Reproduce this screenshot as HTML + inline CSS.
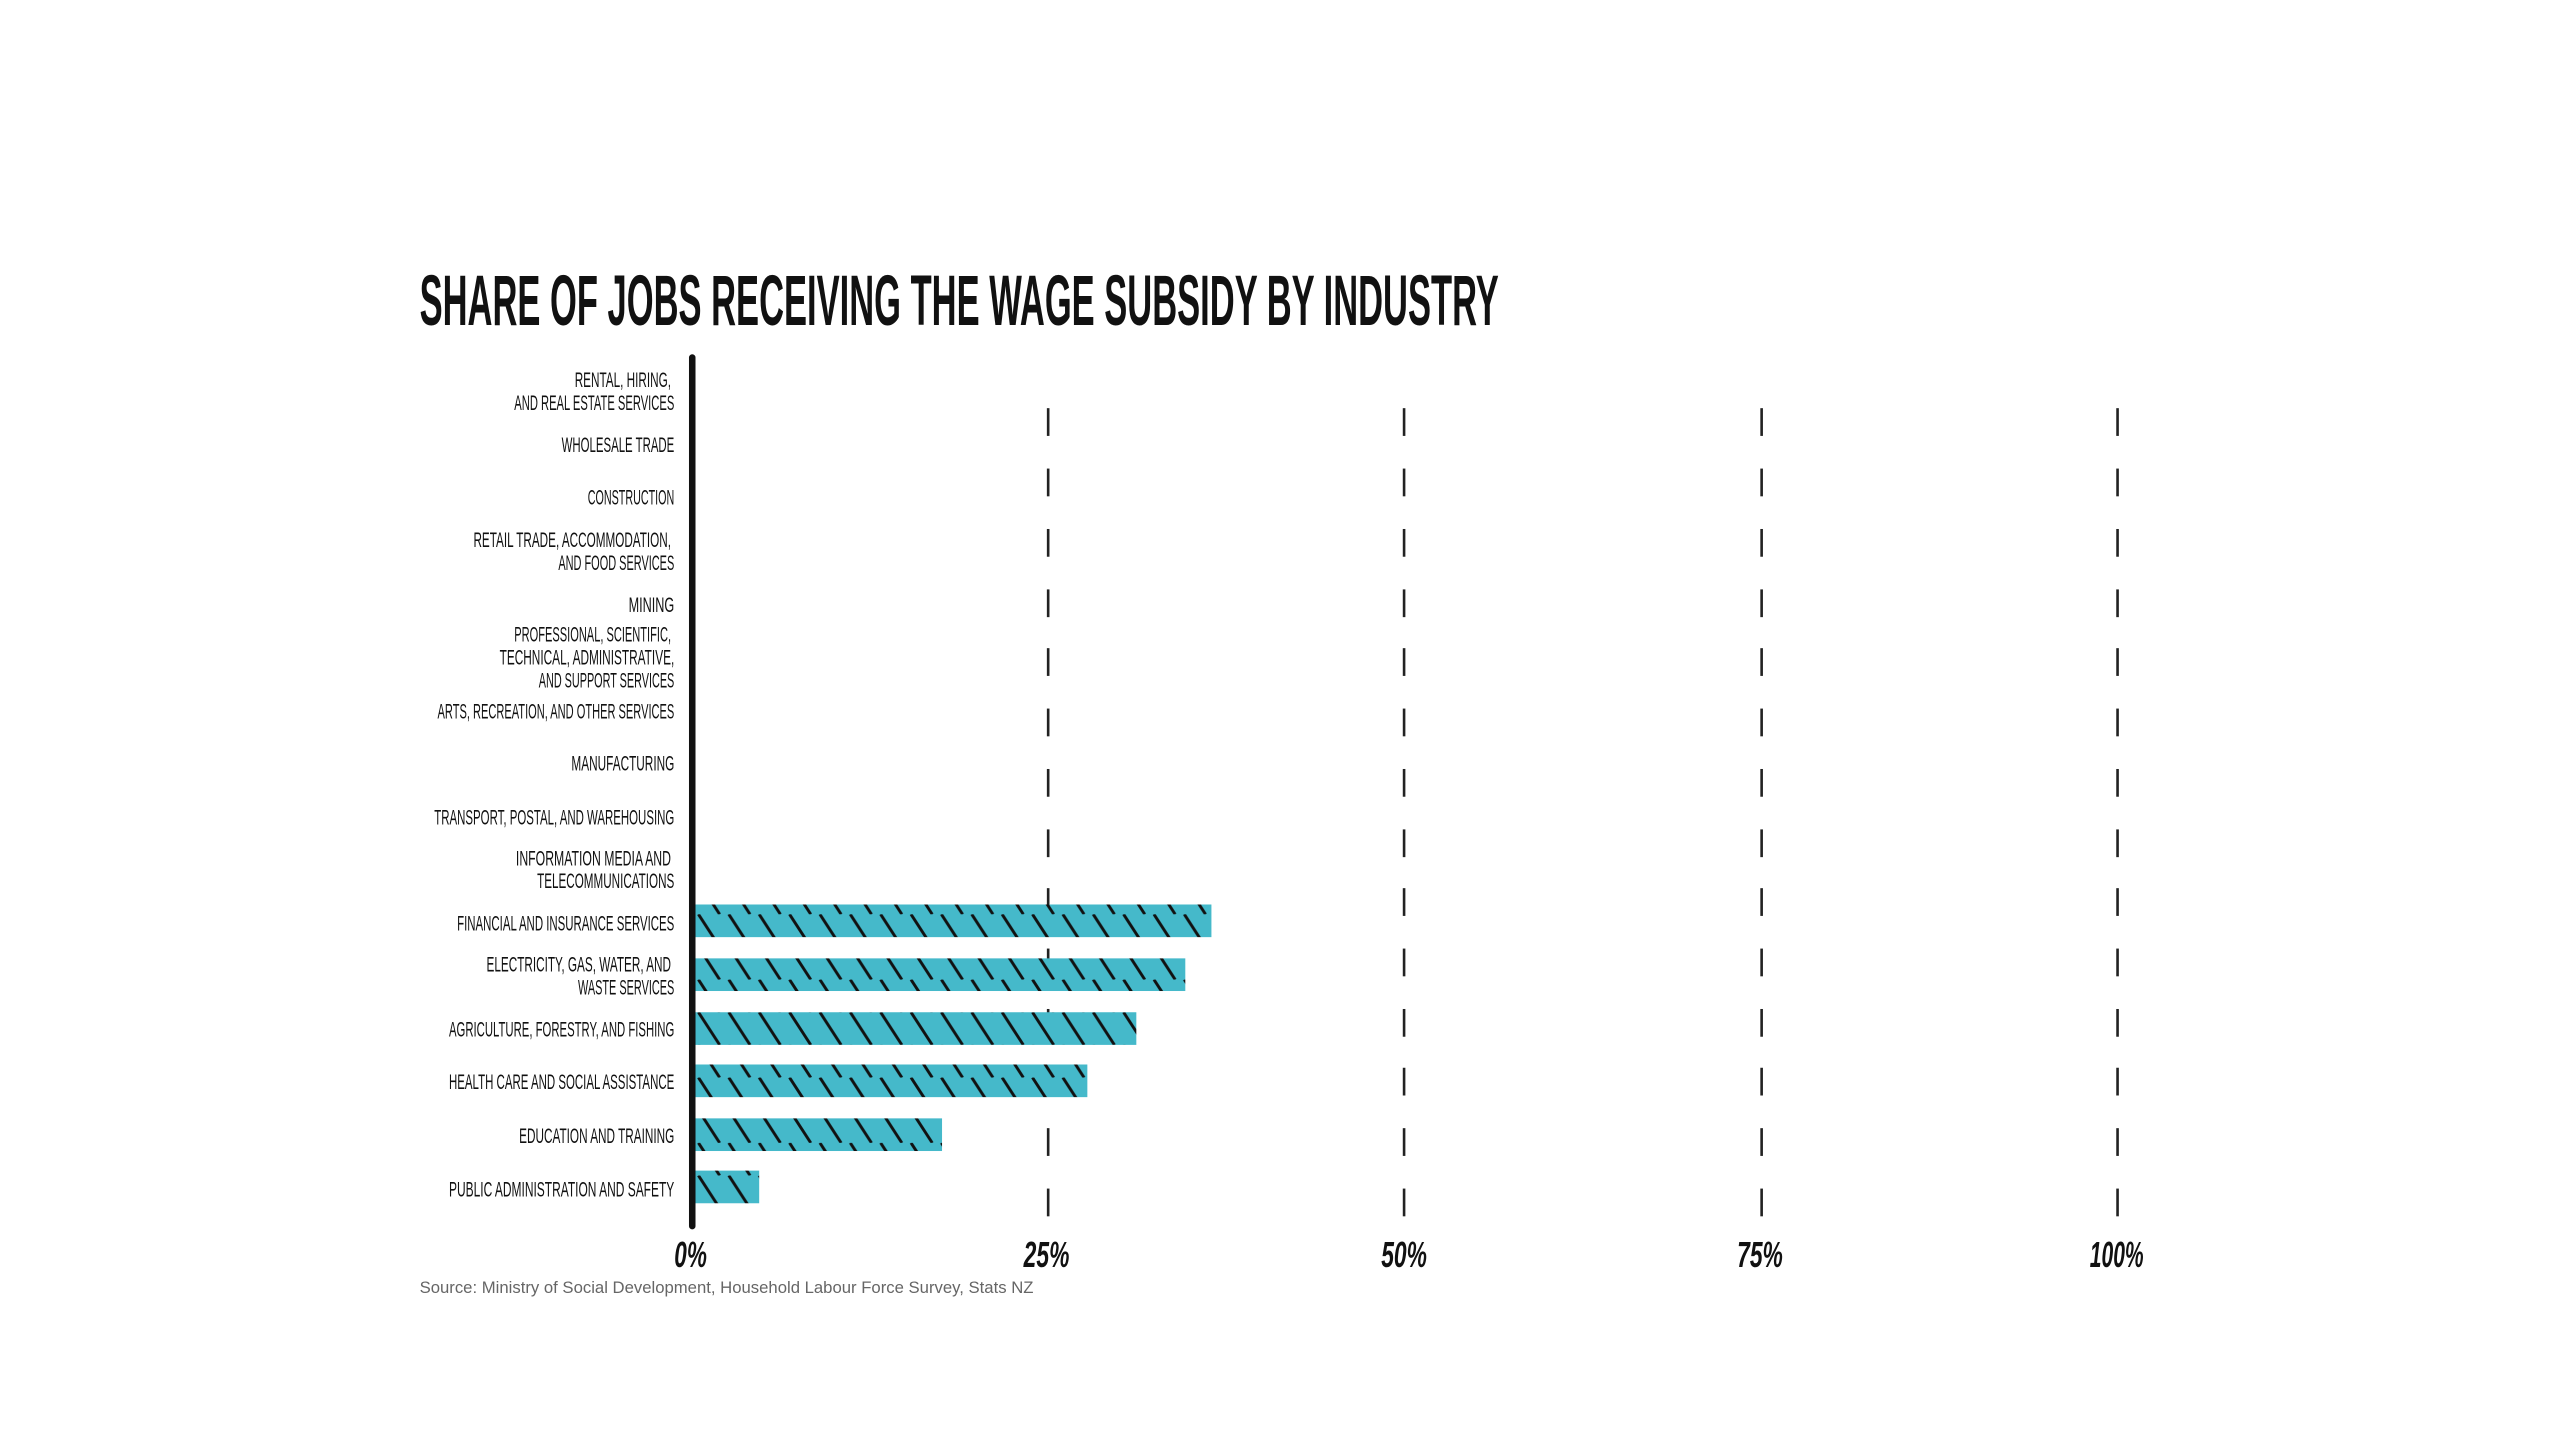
<!DOCTYPE html>
<html><head><meta charset="utf-8"><style>html,body{margin:0;padding:0;background:#fff}svg{display:block}</style></head>
<body>
<svg width="2560" height="1440" viewBox="0 0 1568 882" xmlns="http://www.w3.org/2000/svg">
<defs>
<pattern id="h" patternUnits="userSpaceOnUse" width="18.6" height="20">
<rect width="18.6" height="20" fill="#45b9ca"/>
<line x1="0" y1="0" x2="13" y2="20" stroke="#111" stroke-width="1.8"/>
<line x1="18.6" y1="0" x2="31.6" y2="20" stroke="#111" stroke-width="1.8"/>
<line x1="-18.6" y1="0" x2="-5.6" y2="20" stroke="#111" stroke-width="1.8"/>
</pattern>
</defs>
<rect width="1568" height="882" fill="#fff"/>
<text x="257" y="199" font-family="Liberation Sans, sans-serif" font-weight="bold" font-size="44" textLength="661" lengthAdjust="spacingAndGlyphs" fill="#111">SHARE OF JOBS RECEIVING THE WAGE SUBSIDY BY INDUSTRY</text>
<g stroke="#222" stroke-width="1.6">
<g id="g1">
<line x1="642" x2="642" y1="250" y2="267"/><line x1="642" x2="642" y1="287" y2="304"/><line x1="642" x2="642" y1="324" y2="341"/><line x1="642" x2="642" y1="361" y2="378"/><line x1="642" x2="642" y1="397" y2="414"/><line x1="642" x2="642" y1="434" y2="451"/><line x1="642" x2="642" y1="471" y2="488"/><line x1="642" x2="642" y1="508" y2="525"/><line x1="642" x2="642" y1="544" y2="561"/><line x1="642" x2="642" y1="581" y2="598"/><line x1="642" x2="642" y1="618" y2="635"/><line x1="642" x2="642" y1="654" y2="671"/><line x1="642" x2="642" y1="691" y2="708"/><line x1="642" x2="642" y1="728" y2="745"/>
</g>
<use href="#g1" x="218"/><use href="#g1" x="437"/><use href="#g1" x="655"/>
</g>
<g fill="url(#h)">
<rect x="425" y="554" width="317" height="20"/>
<rect x="425" y="587" width="301" height="20"/>
<rect x="425" y="620" width="271" height="20"/>
<rect x="425" y="652" width="241" height="20"/>
<rect x="425" y="685" width="152" height="20"/>
<rect x="425" y="717" width="40" height="20"/>
</g>
<line x1="424" x2="424" y1="219" y2="751" stroke="#111" stroke-width="4" stroke-linecap="round"/>
<g font-family="Liberation Sans, sans-serif" font-size="13" fill="#111" text-anchor="end">
<text x="411" y="237" textLength="59" lengthAdjust="spacingAndGlyphs">RENTAL, HIRING,</text>
<text x="413" y="251" textLength="98" lengthAdjust="spacingAndGlyphs">AND REAL ESTATE SERVICES</text>
<text x="413" y="277" textLength="69" lengthAdjust="spacingAndGlyphs">WHOLESALE TRADE</text>
<text x="413" y="309" textLength="53" lengthAdjust="spacingAndGlyphs">CONSTRUCTION</text>
<text x="411" y="335" textLength="121" lengthAdjust="spacingAndGlyphs">RETAIL TRADE, ACCOMMODATION,</text>
<text x="413" y="349" textLength="71" lengthAdjust="spacingAndGlyphs">AND FOOD SERVICES</text>
<text x="413" y="375" textLength="28" lengthAdjust="spacingAndGlyphs">MINING</text>
<text x="411" y="393" textLength="96" lengthAdjust="spacingAndGlyphs">PROFESSIONAL, SCIENTIFIC,</text>
<text x="413" y="407" textLength="107" lengthAdjust="spacingAndGlyphs">TECHNICAL, ADMINISTRATIVE,</text>
<text x="413" y="421" textLength="83" lengthAdjust="spacingAndGlyphs">AND SUPPORT SERVICES</text>
<text x="413" y="440" textLength="145" lengthAdjust="spacingAndGlyphs">ARTS, RECREATION, AND OTHER SERVICES</text>
<text x="413" y="472" textLength="63" lengthAdjust="spacingAndGlyphs">MANUFACTURING</text>
<text x="413" y="505" textLength="147" lengthAdjust="spacingAndGlyphs">TRANSPORT, POSTAL, AND WAREHOUSING</text>
<text x="411" y="530" textLength="95" lengthAdjust="spacingAndGlyphs">INFORMATION MEDIA AND</text>
<text x="413" y="544" textLength="84" lengthAdjust="spacingAndGlyphs">TELECOMMUNICATIONS</text>
<text x="413" y="570" textLength="133" lengthAdjust="spacingAndGlyphs">FINANCIAL AND INSURANCE SERVICES</text>
<text x="411" y="595" textLength="113" lengthAdjust="spacingAndGlyphs">ELECTRICITY, GAS, WATER, AND</text>
<text x="413" y="609" textLength="59" lengthAdjust="spacingAndGlyphs">WASTE SERVICES</text>
<text x="413" y="635" textLength="138" lengthAdjust="spacingAndGlyphs">AGRICULTURE, FORESTRY, AND FISHING</text>
<text x="413" y="667" textLength="138" lengthAdjust="spacingAndGlyphs">HEALTH CARE AND SOCIAL ASSISTANCE</text>
<text x="413" y="700" textLength="95" lengthAdjust="spacingAndGlyphs">EDUCATION AND TRAINING</text>
<text x="413" y="733" textLength="138" lengthAdjust="spacingAndGlyphs">PUBLIC ADMINISTRATION AND SAFETY</text>
</g>
<g font-family="Liberation Sans, sans-serif" font-size="22" font-style="italic" font-weight="bold" fill="#111">
<text x="413" y="776" textLength="20" lengthAdjust="spacingAndGlyphs">0%</text>
<text x="627" y="776" textLength="28" lengthAdjust="spacingAndGlyphs">25%</text>
<text x="846" y="776" textLength="28" lengthAdjust="spacingAndGlyphs">50%</text>
<text x="1064" y="776" textLength="28" lengthAdjust="spacingAndGlyphs">75%</text>
<text x="1280" y="776" textLength="33" lengthAdjust="spacingAndGlyphs">100%</text>
</g>
<text x="257" y="792" font-family="Liberation Sans, sans-serif" font-size="10" fill="#666" textLength="376" lengthAdjust="spacingAndGlyphs">Source: Ministry of Social Development, Household Labour Force Survey, Stats NZ</text>
</svg>
</body></html>
